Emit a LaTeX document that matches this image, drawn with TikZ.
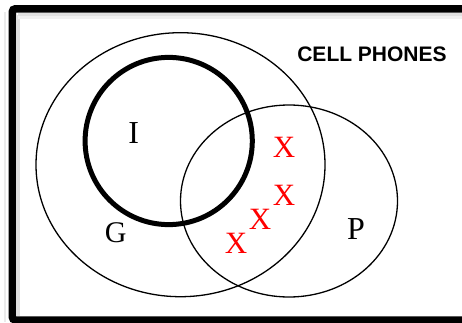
\documentclass[tikz,border=0pt]{standalone}
\usepackage{fontspec}
\setmainfont{Liberation Serif}
\newfontfamily\arialfont{Liberation Sans}
\begin{document}
\begin{tikzpicture}[x=1pt,y=-1pt,
  lbl/.style={inner sep=0pt, font=\fontsize{32}{32}\selectfont},
  xmark/.style={inner sep=0pt, text=red, font=\fontsize{31}{31}\selectfont},
  setline/.style={line width=1.3pt},
  thickset/.style={line width=5pt}]
\useasboundingbox (0,0) rectangle (462,323);
\clip (0,0) rectangle (462,323);
% frame shadow
\draw[black!12, line width=3pt] (17.5,15) -- (462,15);
\draw[black!12, line width=3pt] (18,15) -- (18,316);
\draw[black!6, line width=3pt] (17.5,18) -- (462,18);
\draw[black!8, line width=2pt] (5,12) -- (5,322);
% frame
\draw[line width=7.5pt, rounded corners=3pt] (12.3,8.8) rectangle (470,320);
% sets
\draw[setline] (180.5,164.7) ellipse [x radius=144.5pt, y radius=132pt];
\draw[setline] (289,201) ellipse [x radius=108.5pt, y radius=96pt];
\draw[thickset] (168.7,141) circle [radius=83.6pt];
% labels
\node[lbl] (I) at (133.8,133.2) {I};
\node[lbl, font=\fontsize{30}{30}\selectfont] (G) at (115.8,232.5) {G};
\node[lbl] (P) at (356,229.2) {P};
\node[inner sep=0pt, font=\arialfont\bfseries\fontsize{21}{21}\selectfont] (cp) at (372,54.7) {CELL PHONES};
\node[xmark] (x1) at (284,147) {X};
\node[xmark] (x2) at (284,195.5) {X};
\node[xmark] (x3) at (260,219) {X};
\node[xmark] (x4) at (236,243) {X};
\end{tikzpicture}
\end{document}
